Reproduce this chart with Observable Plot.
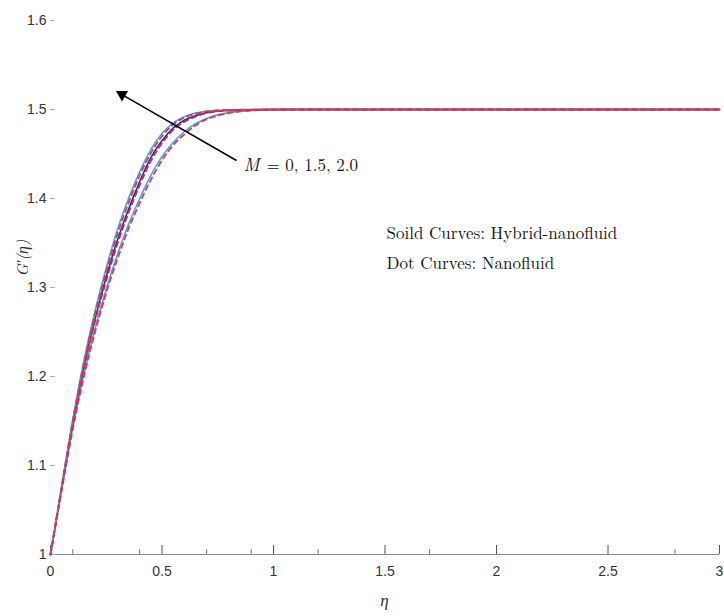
<!DOCTYPE html>
<html><head><meta charset="utf-8">
<script src="https://cdn.jsdelivr.net/npm/d3@7"></script>
<script src="https://cdn.jsdelivr.net/npm/@observablehq/plot@0.6"></script>
<style>body{margin:0;background:#fff}</style>
</head><body><div id="chart"></div>
<script>
const eta = [0, 0.05, 0.1, 0.15, 0.2, 0.25, 0.3, 0.35, 0.4, 0.45, 0.5, 0.55, 0.6, 0.65, 0.7, 0.75, 0.8, 0.9, 1.0, 1.2, 1.5, 2.0, 2.5, 3.0];
const hybridM2  = [1, 1.077, 1.152, 1.218, 1.274, 1.322, 1.365, 1.400, 1.430, 1.455, 1.473, 1.485, 1.492, 1.496, 1.498, 1.499, 1.4995, 1.4999, 1.5, 1.5, 1.5, 1.5, 1.5, 1.5];
const nanoM2    = [1, 1.076, 1.150, 1.215, 1.270, 1.318, 1.360, 1.395, 1.426, 1.451, 1.470, 1.483, 1.491, 1.495, 1.498, 1.499, 1.4995, 1.4999, 1.5, 1.5, 1.5, 1.5, 1.5, 1.5];
const hybridM15 = [1, 1.075, 1.148, 1.212, 1.265, 1.312, 1.353, 1.388, 1.419, 1.446, 1.465, 1.479, 1.488, 1.493, 1.4965, 1.498, 1.499, 1.4997, 1.5, 1.5, 1.5, 1.5, 1.5, 1.5];
const nanoM15   = [1, 1.074, 1.146, 1.209, 1.262, 1.308, 1.349, 1.384, 1.415, 1.442, 1.462, 1.477, 1.486, 1.492, 1.496, 1.498, 1.499, 1.4997, 1.5, 1.5, 1.5, 1.5, 1.5, 1.5];
const hybridM0  = [1, 1.073, 1.143, 1.203, 1.254, 1.298, 1.337, 1.371, 1.400, 1.426, 1.447, 1.463, 1.475, 1.484, 1.490, 1.494, 1.4965, 1.499, 1.4997, 1.5, 1.5, 1.5, 1.5, 1.5];
const nanoM0    = [1, 1.072, 1.141, 1.200, 1.250, 1.294, 1.332, 1.366, 1.395, 1.421, 1.443, 1.460, 1.472, 1.482, 1.489, 1.493, 1.496, 1.4988, 1.4996, 1.5, 1.5, 1.5, 1.5, 1.5];

const xTicks = [0, 0.5, 1, 1.5, 2, 2.5, 3];
const xMinorTicks = [0.1, 0.4, 0.7, 0.9, 1.2, 1.7, 2.8];
const yTicks = [1, 1.1, 1.2, 1.3, 1.4, 1.5, 1.6];

const series = [
  {name: "hybrid M=0",   vals: hybridM0,  color: "#4aa3df", dash: null},
  {name: "hybrid M=1.5", vals: hybridM15, color: "#23308f", dash: null},
  {name: "hybrid M=2.0", vals: hybridM2,  color: "#4aa3df", dash: null},
  {name: "nano M=0",     vals: nanoM0,    color: "#d93a55", dash: "5,4"},
  {name: "nano M=1.5",   vals: nanoM15,   color: "#b0306e", dash: "5,4"},
  {name: "nano M=2.0",   vals: nanoM2,    color: "#d93a55", dash: "5,4"}
];
const rows = s => eta.map((e, i) => ({eta: e, g: s.vals[i]}));

const arrowData = [{x1: 0.834, y1: 1.4427, x2: 0.305, y2: 1.519}];
const mLabel = [{x: 0.865, y: 1.437}];
const legendLines = [
  {x: 1.507, y: 1.3607, text: "Soild Curves: Hybrid-nanofluid"},
  {x: 1.507, y: 1.327, text: "Dot Curves: Nanofluid"}
];

const W = 724, H = 616, mL = 50, mR = 5, mT = 20, mB = 62;
const frameH = H - mT - mB, frameW = W - mL - mR;
const tickFont = "'Liberation Sans Narrow','Arial Narrow','Liberation Sans',sans-serif";
const serif = "'Latin Modern Roman','CMU Serif','Liberation Serif','DejaVu Serif',serif";

const marks = [
  Plot.ruleY([1], {stroke: "#8a8a8a", strokeWidth: 1}),
  Plot.ruleX(xTicks, {stroke: "#555", insetTop: frameH - 9}),
  Plot.ruleX(xMinorTicks, {stroke: "#777", insetTop: frameH - 5}),
  Plot.ruleY(yTicks, {stroke: "#aaa", insetRight: frameW - 5}),
  Plot.axisX(xTicks, {tickSize: 0, tickPadding: 12, label: null, tickFormat: d3.format("~g"), fontSize: 14, fill: "#333"}),
  Plot.axisY(yTicks, {tickSize: 0, tickPadding: 4, label: null, tickFormat: d3.format("~g"), fontSize: 14, fill: "#333"}),
  ...series.map(s => Plot.line(rows(s), {x: "eta", y: "g", stroke: s.color, strokeWidth: s.dash ? 1.8 : 1.6, strokeDasharray: s.dash, curve: "monotone-x"})),
  Plot.link(arrowData, {x1: "x1", y1: "y1", x2: "x2", y2: "y2", stroke: "black", strokeWidth: 1.5}),
  Plot.dot(arrowData, {x: "x2", y: "y2", symbol: "triangle", r: 4.5, fill: "black", stroke: "none", rotate: -60, dx: 3.5, dy: 2}),
  Plot.text(mLabel, {x: "x", y: "y", text: () => "M", textAnchor: "start", fontSize: 18, fontStyle: "italic", fontFamily: serif, fill: "#111"}),
  Plot.text(mLabel, {x: "x", y: "y", text: () => "= 0, 1.5, 2.0", textAnchor: "start", dx: 23, fontSize: 17, fontFamily: serif, fill: "#111"}),
  Plot.text(legendLines, {x: "x", y: "y", text: "text", textAnchor: "start", fontSize: 17, fontFamily: serif, fill: "#111"})
];

const chart = Plot.plot({
  width: W, height: H,
  marginLeft: mL, marginRight: mR, marginTop: mT, marginBottom: mB,
  x: {domain: [0, 3]},
  y: {domain: [1, 1.6]},
  style: {fontFamily: tickFont, background: "#fff", overflow: "visible"},
  marks
});

const svg = d3.select(chart);
svg.append("text")
  .attr("x", mL + frameW * 0.5).attr("y", 606)
  .attr("text-anchor", "middle")
  .attr("font-family", serif).attr("font-style", "italic").attr("font-size", 17).attr("fill", "#333")
  .text("η");
svg.append("text")
  .attr("transform", "translate(28,258) rotate(-90)")
  .attr("text-anchor", "middle")
  .attr("font-family", serif).attr("font-style", "italic").attr("font-size", 16).attr("fill", "#333")
  .text("G′(η)");

document.getElementById("chart").appendChild(chart);
</script>
</body></html>
